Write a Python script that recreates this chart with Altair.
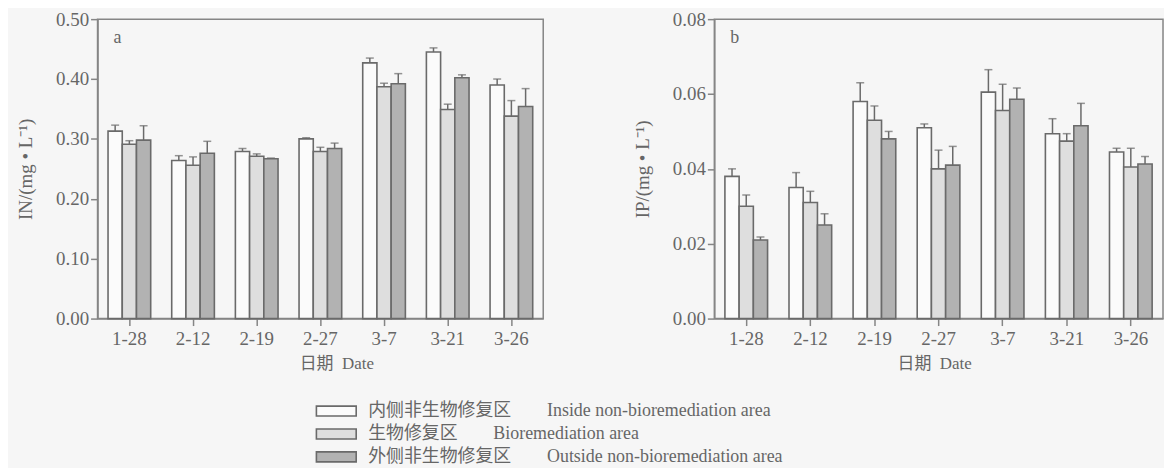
import altair as alt
import pandas as pd

dates = ["1-28", "2-12", "2-19", "2-27", "3-7", "3-21", "3-26"]
groups = [
    "内侧非生物修复区\u3000\u3000Inside non-bioremediation area",
    "生物修复区\u3000\u3000Bioremediation area",
    "外侧非生物修复区\u3000\u3000Outside non-bioremediation area",
]
colors = ["#fbfbfb", "#dedede", "#b2b2b2"]

# IN (mg/L)
in_inside = [0.313, 0.264, 0.279, 0.300, 0.427, 0.445, 0.390]
in_inside_err = [0.010, 0.008, 0.005, 0.002, 0.008, 0.007, 0.010]
in_bio = [0.291, 0.256, 0.271, 0.279, 0.387, 0.349, 0.338]
in_bio_err = [0.006, 0.014, 0.004, 0.007, 0.006, 0.009, 0.026]
in_out = [0.298, 0.276, 0.267, 0.284, 0.392, 0.402, 0.354]
in_out_err = [0.024, 0.020, 0.001, 0.009, 0.017, 0.005, 0.030]

# IP (mg/L)
ip_inside = [0.038, 0.035, 0.058, 0.051, 0.0605, 0.0494, 0.0445]
ip_inside_err = [0.002, 0.004, 0.005, 0.001, 0.006, 0.004, 0.001]
ip_bio = [0.030, 0.031, 0.053, 0.040, 0.0556, 0.0474, 0.0405]
ip_bio_err = [0.003, 0.003, 0.0038, 0.005, 0.007, 0.002, 0.005]
ip_out = [0.021, 0.025, 0.048, 0.041, 0.0586, 0.0515, 0.0413]
ip_out_err = [0.0008, 0.003, 0.002, 0.005, 0.003, 0.006, 0.002]

in_ticks = [0.0, 0.1, 0.2, 0.3, 0.4, 0.5]
ip_ticks = [0.0, 0.02, 0.04, 0.06, 0.08]

SERIF = "Liberation Serif, Noto Sans CJK SC"
EDGE = "#6a6a6a"
TXT = "#666666"


def make_df(series):
    rows = []
    for g, (vals, errs) in zip(groups, series):
        for d, v, e in zip(dates, vals, errs):
            rows.append({"date": d, "group": g, "value": v, "hi": v + e})
    return pd.DataFrame(rows)


df_in = make_df([(in_inside, in_inside_err), (in_bio, in_bio_err), (in_out, in_out_err)])
df_ip = make_df([(ip_inside, ip_inside_err), (ip_bio, ip_bio_err), (ip_out, ip_out_err)])


def panel(df, ytitle, dom, ticks, letter, width, show_legend, title_x):
    base = alt.Chart(df)
    x = alt.X(
        "date:N",
        sort=dates,
        scale=alt.Scale(paddingInner=0.33, paddingOuter=0.165),
        axis=alt.Axis(title="日期\u2002Date", labelAngle=0, titleX=title_x, titlePadding=7,
                      labelPadding=4, titleFontSize=17),
    )
    xo = alt.XOffset("group:N", sort=groups, scale=alt.Scale(paddingInner=0, paddingOuter=0))
    y = alt.Y(
        "value:Q",
        scale=alt.Scale(domain=dom, nice=False, zero=True),
        axis=alt.Axis(values=ticks, format=".2f", title=ytitle, titlePadding=20, labelPadding=2,
                      titleFontSize=19),
    )
    if show_legend:
        fill = alt.Fill("group:N", sort=groups, scale=alt.Scale(domain=groups, range=colors),
                        legend=alt.Legend(title=None))
    else:
        fill = alt.Fill("group:N", sort=groups, scale=alt.Scale(domain=groups, range=colors), legend=None)
    bars = base.mark_bar(stroke=EDGE, strokeWidth=1.6).encode(x=x, xOffset=xo, y=y, fill=fill)
    rules = base.mark_rule(color=EDGE, strokeWidth=1.5).encode(x=x, xOffset=xo, y="value:Q", y2="hi:Q")
    caps = base.mark_tick(color=EDGE, size=8, thickness=1.5).encode(x=x, xOffset=xo, y="hi:Q")
    lab = alt.Chart(pd.DataFrame({"t": [letter]})).mark_text(
        font=SERIF, fontSize=18, color=TXT, align="left", baseline="middle"
    ).encode(text="t:N", x=alt.value(16), y=alt.value(19))
    return alt.layer(bars, rules, caps, lab).properties(width=width, height=301)


left = panel(df_in, "IN/(mg • L⁻¹)", [0, 0.5], in_ticks, "a", 448, True, 240)
right = panel(df_ip, "IP/(mg • L⁻¹)", [0, 0.08], ip_ticks, "b", 451, False, 221)

chart = (
    alt.hconcat(left, right, spacing=172, bounds="flush")
    .resolve_scale(fill="independent", y="independent")
    .properties(padding={"left": 8, "top": 0, "right": 0, "bottom": 0}, background="#f6f6f6")
    .configure_view(stroke="#858585", strokeWidth=1.5)
    .configure_axis(
        grid=False,
        domainColor="#858585",
        domainWidth=1.5,
        tickColor="#858585",
        tickWidth=1.5,
        tickSize=7,
        labelFont=SERIF,
        labelFontSize=19,
        labelColor=TXT,
        titleFont=SERIF,
        titleFontSize=18,
        titleFontWeight="normal",
        titleColor=TXT,
    )
    .configure_legend(
        orient="none",
        legendX=229,
        legendY=383,
        padding=0,
        symbolType="M-2,-0.5L2,-0.5L2,0.5L-2,0.5Z",
        symbolSize=400,
        symbolStrokeColor=EDGE,
        symbolStrokeWidth=1.6,
        symbolOpacity=1,
        labelFont=SERIF,
        labelFontSize=18,
        labelColor=TXT,
        labelOffset=21,
        labelLimit=700,
        rowPadding=3,
    )
)

chart.save("out.html", embed_options={"renderer": "svg", "actions": False})
